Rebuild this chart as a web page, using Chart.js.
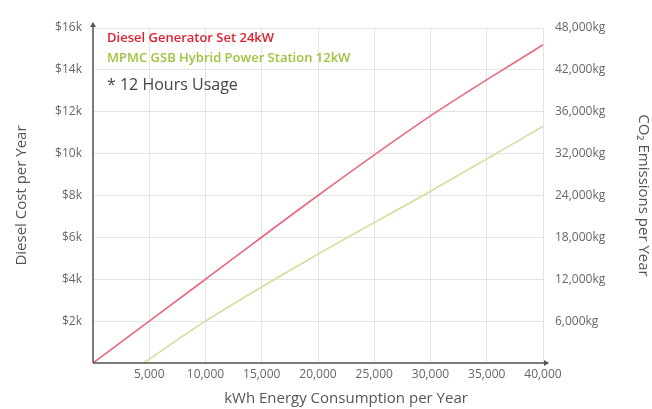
<!DOCTYPE html>
<html>
<head>
<meta charset="utf-8">
<script src="https://cdn.jsdelivr.net/npm/chart.js@4.4.1/dist/chart.umd.min.js"></script>
<style>
  html, body { margin: 0; padding: 0; background: #fff; }
  #wrap { width: 652px; height: 409px; }
</style>
</head>
<body>
<div id="wrap"><canvas id="c" width="652" height="409"></canvas></div>
<script>
// kWh per year on the x axis
const dieselKwh = [0, 10000, 20000, 30000, 40000];
const dieselCost = [0, 4000, 8000, 11800, 15200];
const hybridKwh = [4500, 10000, 20000, 30000, 40000];
const hybridCost = [0, 2000, 5200, 8200, 11300];

const seriesNames = ["Diesel Generator Set 24kW", "MPMC GSB Hybrid Power Station 12kW"];
const note = "* 12 Hours Usage";
const co2Labels = ["6,000kg", "12,000kg", "18,000kg", "24,000kg", "32,000kg", "36,000kg", "42,000kg", "48,000kg"];

const RED = "#e8697c";
const GREEN = "#d3dd9c";
const AXIS = "#555";
const TICK = "#666";
const FONT = "'Open Sans', 'DejaVu Sans', sans-serif";

const toPoints = (xs, ys) => xs.map((x, i) => ({ x: x, y: ys[i] }));

const decorations = {
  id: "decorations",
  afterDraw(chart) {
    const { ctx, chartArea: a } = chart;
    ctx.save();
    // axes with arrows
    ctx.strokeStyle = AXIS;
    ctx.fillStyle = AXIS;
    ctx.lineWidth = 1.5;
    ctx.beginPath();
    ctx.moveTo(a.left, a.bottom);
    ctx.lineTo(a.left, a.top - 5);
    ctx.moveTo(a.left, a.bottom);
    ctx.lineTo(a.right + 5, a.bottom);
    ctx.stroke();
    ctx.beginPath();
    ctx.moveTo(a.left, a.top - 6);
    ctx.lineTo(a.left - 3, a.top - 1);
    ctx.lineTo(a.left + 3, a.top - 1);
    ctx.closePath();
    ctx.fill();
    ctx.beginPath();
    ctx.moveTo(a.right + 6, a.bottom);
    ctx.lineTo(a.right + 1, a.bottom - 3);
    ctx.lineTo(a.right + 1, a.bottom + 3);
    ctx.closePath();
    ctx.fill();

    // legend text
    ctx.textBaseline = "middle";
    ctx.textAlign = "left";
    ctx.font = "600 13px " + FONT;
    ctx.fillStyle = "#e01f30";
    ctx.fillText(seriesNames[0], a.left + 14, a.top + 10);
    ctx.fillStyle = "#9dc43e";
    ctx.fillText(seriesNames[1], a.left + 14, a.top + 30);
    ctx.font = "16px " + FONT;
    ctx.fillStyle = "#444";
    ctx.fillText(note, a.left + 14, a.top + 57);

    // x axis title
    ctx.font = "15px " + FONT;
    ctx.fillStyle = "#555";
    ctx.textAlign = "center";
    ctx.fillText("kWh Energy Consumption per Year", (a.left + a.right) / 2 + 28, 399);
    ctx.restore();
  }
};

new Chart(document.getElementById("c"), {
  type: "line",
  data: {
    datasets: [
      {
        label: seriesNames[0],
        data: toPoints(dieselKwh, dieselCost),
        borderColor: RED,
        borderWidth: 1.6,
        pointRadius: 0,
        cubicInterpolationMode: "monotone",
        yAxisID: "y"
      },
      {
        label: seriesNames[1],
        data: toPoints(hybridKwh, hybridCost),
        borderColor: GREEN,
        borderWidth: 1.6,
        pointRadius: 0,
        cubicInterpolationMode: "monotone",
        yAxisID: "y"
      }
    ]
  },
  options: {
    responsive: false,
    animation: false,
    layout: { padding: { top: 28, left: 0, right: 0, bottom: 0 } },
    plugins: {
      legend: { display: false },
      tooltip: { enabled: false }
    },
    scales: {
      x: {
        type: "linear",
        min: 0,
        max: 40000,
        afterFit: (s) => { s.height = 46; },
        border: { display: false },
        grid: { color: "#e4e4e4", drawTicks: false },
        ticks: {
          stepSize: 5000,
          padding: 4,
          color: TICK,
          font: { family: FONT, size: 12 },
          callback: (v) => (v === 0 ? "" : v.toLocaleString("en-US"))
        }
      },
      y: {
        position: "left",
        min: 0,
        max: 16000,
        afterFit: (s) => { s.width = 93; },
        border: { display: false },
        grid: { color: "#e4e4e4", drawTicks: false },
        ticks: {
          stepSize: 2000,
          padding: 11,
          color: TICK,
          font: { family: FONT, size: 12 },
          callback: (v) => (v === 0 ? "" : "$" + v / 1000 + "k")
        },
        title: {
          display: true,
          text: "Diesel Cost per Year",
          color: "#555",
          font: { family: FONT, size: 15 },
          padding: { top: 13, bottom: 0 }
        }
      },
      y2: {
        position: "right",
        display: true,
        min: 0,
        max: 48000,
        afterFit: (s) => { s.width = 109; },
        border: { display: false },
        grid: { drawOnChartArea: false, drawTicks: false },
        ticks: {
          stepSize: 6000,
          padding: 12,
          color: TICK,
          font: { family: FONT, size: 12 },
          callback: (v) => (v === 0 ? "" : co2Labels[v / 6000 - 1])
        },
        title: {
          display: true,
          text: "CO\u2082 Emissions per Year",
          color: "#555",
          font: { family: FONT, size: 15 },
          padding: { top: 0, bottom: 0 }
        }
      }
    }
  },
  plugins: [decorations]
});
</script>
</body>
</html>
